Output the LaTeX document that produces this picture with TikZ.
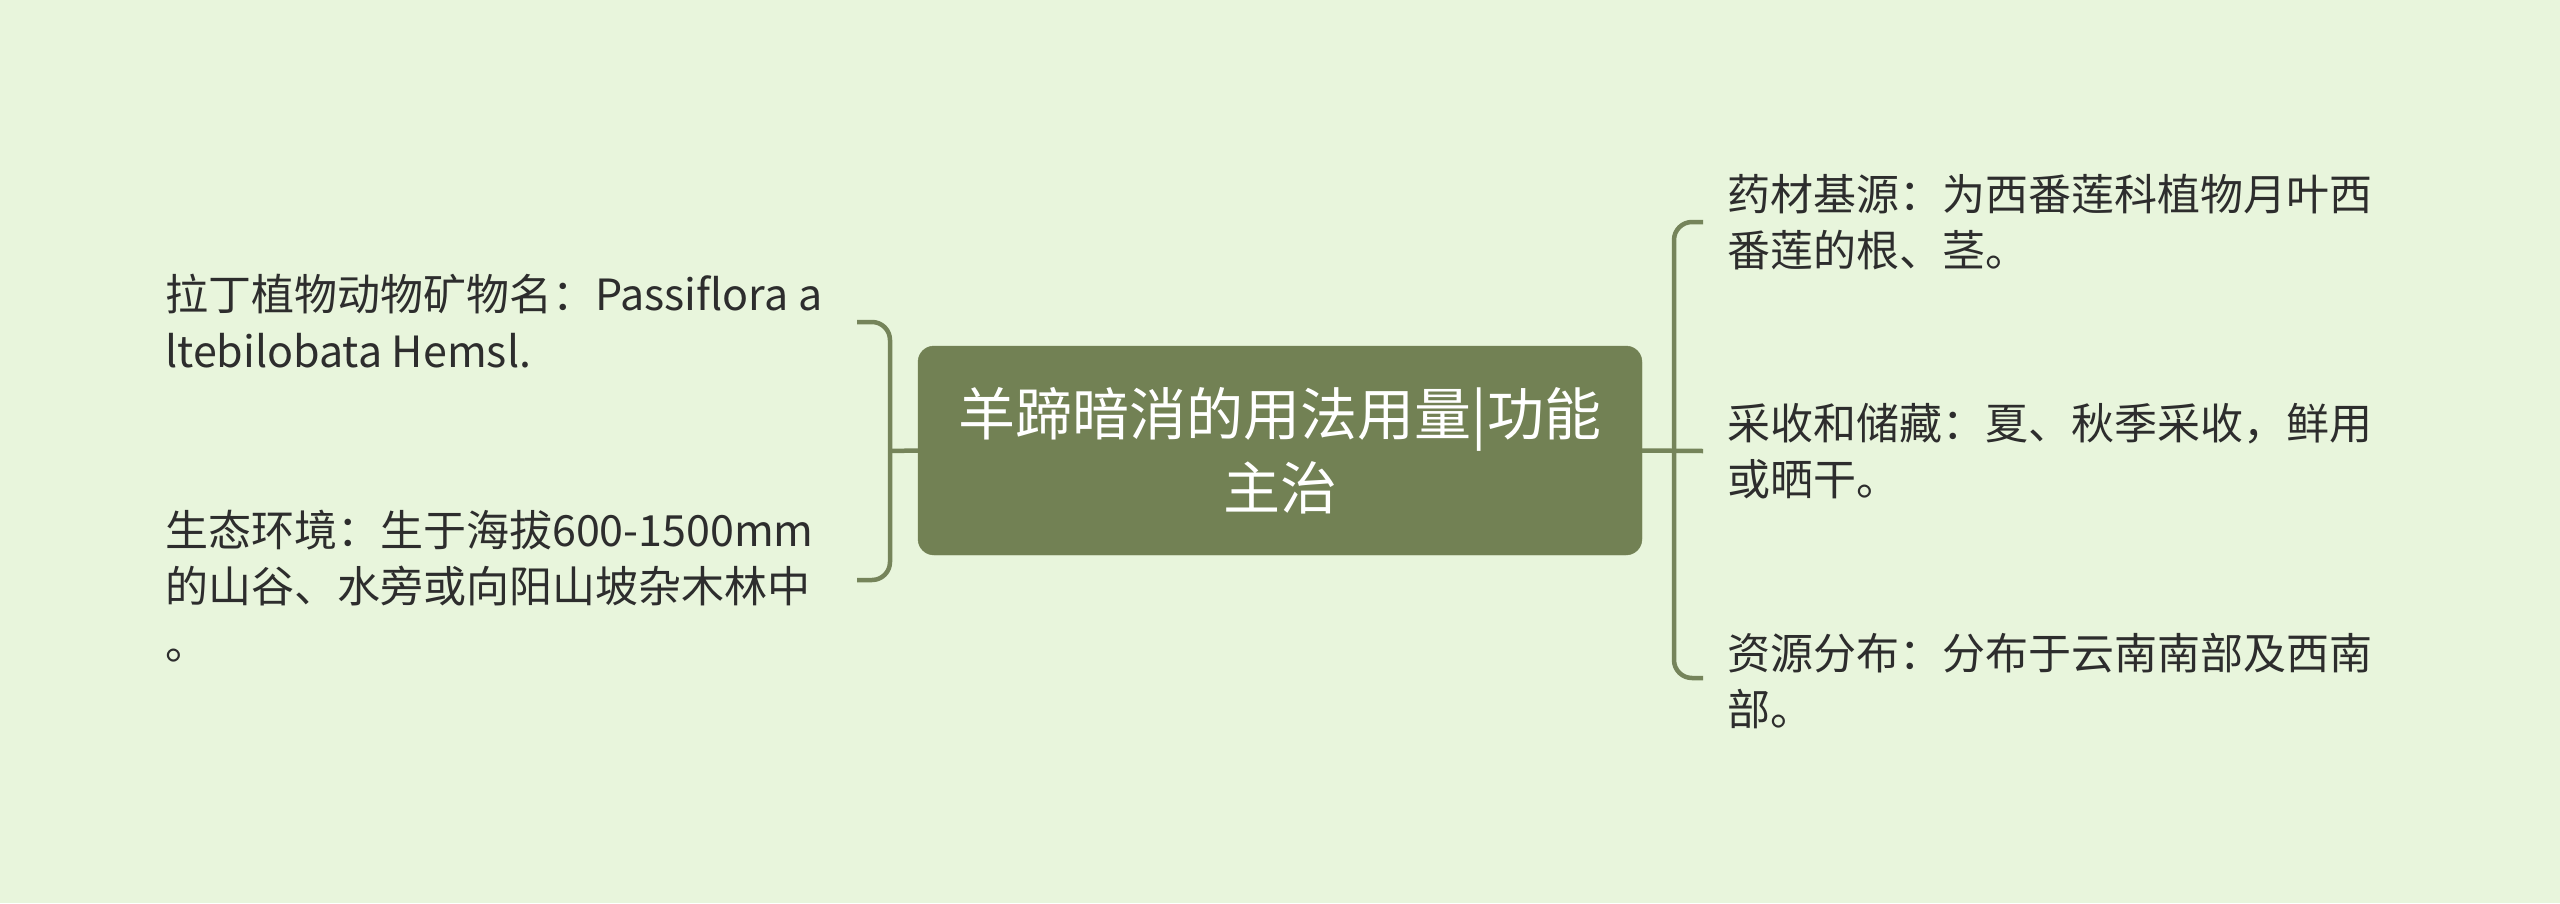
\documentclass[tikz,border=0pt]{standalone}
\usepackage{fontspec}
\setmainfont{Noto Sans CJK SC}
\definecolor{bgc}{RGB}{232,245,220}
\definecolor{mainc}{RGB}{114,129,84}
\definecolor{linec}{RGB}{117,132,90}
\definecolor{txtc}{RGB}{45,45,45}
\begin{document}
\begin{tikzpicture}[x=1pt,y=-1pt,
  leaf/.style={inner sep=0pt, align=left, anchor=west, text=txtc,
    font=\fontsize{43}{56.5}\selectfont},
  root/.style={rounded corners=16pt, fill=mainc, draw=mainc, text=white,
    minimum width=724pt, minimum height=209pt, inner sep=0pt, align=center,
    font=\fontsize{57}{74}\selectfont},
  conn/.style={draw=linec, line width=4.5pt, rounded corners=18pt}]
\fill[bgc] (0,0) rectangle (2560,903);
\useasboundingbox (0,0) rectangle (2560,903);

\node[root] (c) at (1280,450.5) {羊蹄暗消的用法用量|功能\\主治};

\node[leaf] (l1) at (165,321) {拉丁植物动物矿物名：Passiflora a\\ltebilobata Hemsl.};
\node[leaf] (l2) at (165,586) {生态环境：生于海拔600-1500mm\\的山谷、水旁或向阳山坡杂木林中\\。};

\node[leaf] (r1) at (1727,222) {药材基源：为西番莲科植物月叶西\\番莲的根、茎。};
\node[leaf] (r2) at (1727,451) {采收和储藏：夏、秋季采收，鲜用\\或晒干。};
\node[leaf] (r3) at (1727,681) {资源分布：分布于云南南部及西南\\部。};

% left bracket
\coordinate (lj) at (890,451);
\coordinate (lt) at (857,322);
\coordinate (lb) at (857,580);
\draw[conn, rounded corners=0pt] (c.west) -- (lj);
\draw[conn] (lt) -- (lt -| lj) -- (lb -| lj) -- (lb);

% right bracket
\coordinate (rj) at (1674,451);
\coordinate (rt) at (1703,222);
\coordinate (rm) at (1703,451);
\coordinate (rb) at (1703,678);
\draw[conn, rounded corners=0pt] (c.east) -- (rm);
\draw[conn] (rt) -- (rt -| rj) -- (rb -| rj) -- (rb);
\end{tikzpicture}
\end{document}
